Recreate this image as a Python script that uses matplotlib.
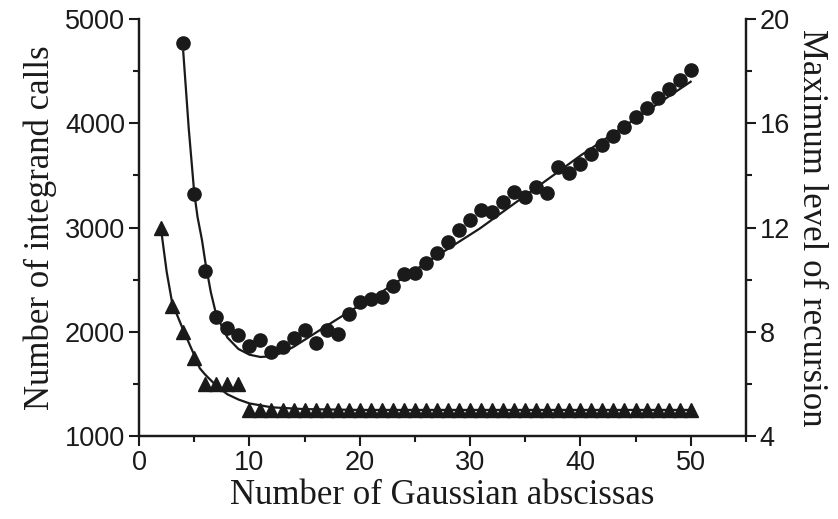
import matplotlib
matplotlib.use("Agg")
import matplotlib.pyplot as plt
from matplotlib.ticker import MultipleLocator

# integrand calls (left axis), circles
n_calls = list(range(4, 51))
calls = [4767, 3318, 2586, 2145, 2039, 1966, 1866, 1921, 1803, 1851,
         1943, 2017, 1895, 2017, 1978, 2170, 2288, 2314, 2336, 2442,
         2554, 2560, 2657, 2758, 2858, 2976, 3072, 3168, 3146, 3245,
         3337, 3296, 3392, 3334, 3584, 3520, 3609, 3702, 3788, 3881,
         3967, 4057, 4149, 4239, 4329, 4421, 4508]

# fitted curve for calls
fit_calls_x = [4, 4.5, 5, 5.3, 5.7, 6, 6.5, 7, 8, 9, 10, 11, 12, 13, 14, 16,
               18.8, 21.8, 26.4, 30.9, 40, 50]
fit_calls_y = [4690, 3950, 3330, 3100, 2880, 2670, 2380, 2160, 1945, 1835,
               1780, 1758, 1765, 1800, 1855, 1990, 2177, 2369, 2688, 2992,
               3690, 4400]

# maximum recursion level (right axis), triangles
n_rec = list(range(2, 51))
rec = [12, 9, 8, 7, 6, 6, 6, 6] + [5] * 41

fit_rec_x = [2, 2.5, 3, 4, 5, 5.5, 6, 7, 8, 9, 10, 12, 15, 20, 50]
fit_rec_y = [11.9, 10.3, 9.1, 8.07, 7.1, 6.6, 6.35, 5.93, 5.6, 5.4, 5.25,
             5.1, 5.03, 5.0, 5.0]

tick_font = {"family": "Liberation Sans", "size": 19.5}
label_font = {"family": "Liberation Serif", "size": 25}

fig = plt.figure(figsize=(8.38, 5.19), dpi=100)
ax = fig.add_axes([0.166, 0.160, 0.724, 0.803])
ax2 = ax.twinx()

ax.plot(fit_calls_x, fit_calls_y, color="#1a1a1a", lw=1.6, zorder=2)
ax.plot(n_calls, calls, "o", color="#1a1a1a", ms=9.5, zorder=3)
ax2.plot(fit_rec_x, fit_rec_y, color="#1a1a1a", lw=1.6, zorder=2)
ax2.plot(n_rec, rec, "^", color="#1a1a1a", ms=9.5, zorder=3)

ax.set_xlim(0, 55)
ax.set_ylim(1000, 5000)
ax2.set_ylim(4, 20)

ax.xaxis.set_major_locator(MultipleLocator(10))
ax.xaxis.set_minor_locator(MultipleLocator(5))
ax.yaxis.set_major_locator(MultipleLocator(1000))
ax.yaxis.set_minor_locator(MultipleLocator(500))
ax2.yaxis.set_major_locator(MultipleLocator(4))
ax2.yaxis.set_minor_locator(MultipleLocator(2))

for a in (ax, ax2):
    a.spines["top"].set_visible(False)
    for s in a.spines.values():
        s.set_linewidth(1.6)
        s.set_color("#1a1a1a")
    a.tick_params(which="major", direction="out", length=7, width=1.5,
                  color="#1a1a1a", pad=3)
    a.tick_params(which="minor", direction="out", length=4, width=1.5,
                  color="#1a1a1a")
    for lab in a.get_xticklabels() + a.get_yticklabels():
        lab.set_fontfamily(tick_font["family"])
        lab.set_fontsize(tick_font["size"])
        lab.set_color("#1a1a1a")

ax.set_xlabel("Number of Gaussian abscissas", fontdict=label_font,
              color="#1a1a1a", labelpad=2)
ax.set_ylabel("Number of integrand calls", fontdict=label_font,
              color="#1a1a1a", labelpad=6)
ax2.set_ylabel("Maximum level of recursion", fontdict=label_font,
               color="#1a1a1a", rotation=270, labelpad=27)

fig.savefig("out.png", dpi=100)
